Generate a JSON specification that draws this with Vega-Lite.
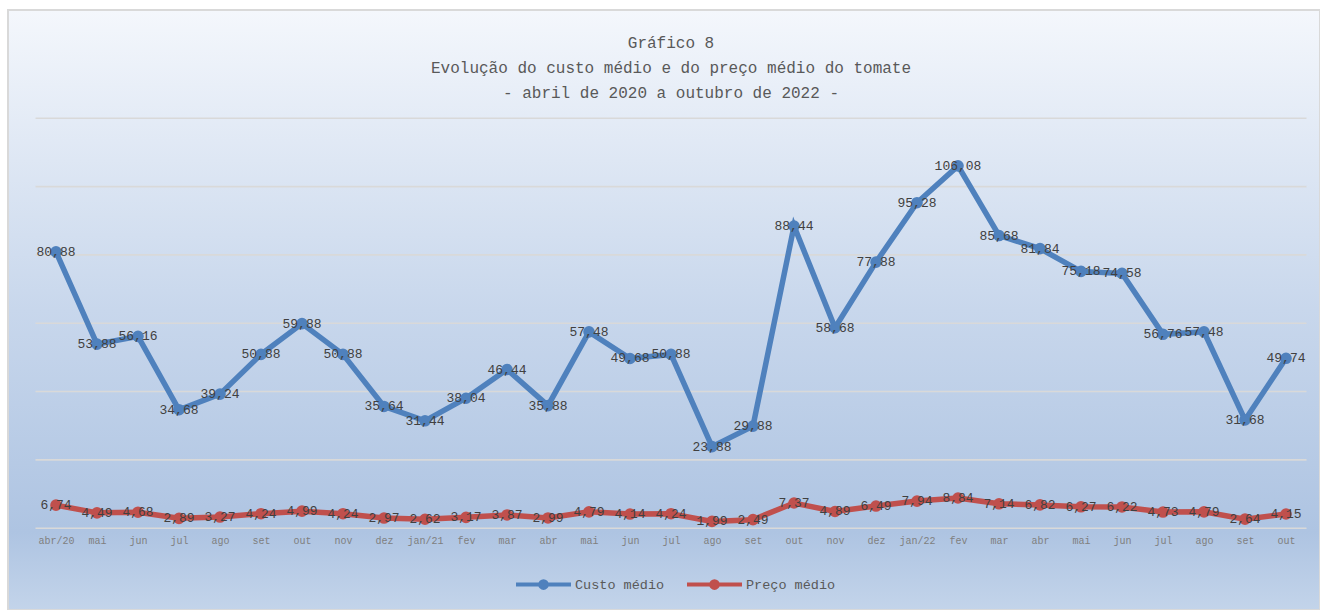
{
  "$schema": "https://vega.github.io/schema/vega-lite/v6.json",
  "width": 1312,
  "height": 600,
  "padding": {"left": 8, "top": 10, "right": 0, "bottom": 0},
  "autosize": {"type": "none"},
  "background": "white",
  "config": {
    "locale": {"number": {"decimal": ",", "thousands": ".", "grouping": [3], "currency": ["R$", ""]}},
    "font": "Liberation Mono",
    "view": {
      "fill": {"gradient": "linear", "x1": 0, "y1": 0, "x2": 0, "y2": 1,
        "stops": [
          {"offset": 0, "color": "#f4f7fc"},
          {"offset": 0.5, "color": "#c8d7ec"},
          {"offset": 0.87, "color": "#aec4e2"},
          {"offset": 1, "color": "#c3d4ea"}
        ]},
      "stroke": "#d9d9d9",
      "strokeWidth": 2
    }
  },
  "title": {
    "text": ["Gráfico 8", "Evolução do custo médio e do preço médio do tomate", "- abril de 2020 a outubro de 2022 -"],
    "font": "Liberation Mono",
    "fontSize": 16,
    "fontWeight": "normal",
    "color": "#595959",
    "lineHeight": 25,
    "anchor": "middle",
    "dx": 7,
    "dy": 95
  },
  "datasets": {
    "grade": [{"v": 0}, {"v": 20}, {"v": 40}, {"v": 60}, {"v": 80}, {"v": 100}, {"v": 120}],
    "tomate": [
      {"i": 0, "mes": "abr/20", "Custo médio": 80.88, "Preço médio": 6.74},
      {"i": 1, "mes": "mai", "Custo médio": 53.88, "Preço médio": 4.49},
      {"i": 2, "mes": "jun", "Custo médio": 56.16, "Preço médio": 4.68},
      {"i": 3, "mes": "jul", "Custo médio": 34.68, "Preço médio": 2.89},
      {"i": 4, "mes": "ago", "Custo médio": 39.24, "Preço médio": 3.27},
      {"i": 5, "mes": "set", "Custo médio": 50.88, "Preço médio": 4.24},
      {"i": 6, "mes": "out", "Custo médio": 59.88, "Preço médio": 4.99},
      {"i": 7, "mes": "nov", "Custo médio": 50.88, "Preço médio": 4.24},
      {"i": 8, "mes": "dez", "Custo médio": 35.64, "Preço médio": 2.97},
      {"i": 9, "mes": "jan/21", "Custo médio": 31.44, "Preço médio": 2.62},
      {"i": 10, "mes": "fev", "Custo médio": 38.04, "Preço médio": 3.17},
      {"i": 11, "mes": "mar", "Custo médio": 46.44, "Preço médio": 3.87},
      {"i": 12, "mes": "abr", "Custo médio": 35.88, "Preço médio": 2.99},
      {"i": 13, "mes": "mai", "Custo médio": 57.48, "Preço médio": 4.79},
      {"i": 14, "mes": "jun", "Custo médio": 49.68, "Preço médio": 4.14},
      {"i": 15, "mes": "jul", "Custo médio": 50.88, "Preço médio": 4.24},
      {"i": 16, "mes": "ago", "Custo médio": 23.88, "Preço médio": 1.99},
      {"i": 17, "mes": "set", "Custo médio": 29.88, "Preço médio": 2.49},
      {"i": 18, "mes": "out", "Custo médio": 88.44, "Preço médio": 7.37},
      {"i": 19, "mes": "nov", "Custo médio": 58.68, "Preço médio": 4.89},
      {"i": 20, "mes": "dez", "Custo médio": 77.88, "Preço médio": 6.49},
      {"i": 21, "mes": "jan/22", "Custo médio": 95.28, "Preço médio": 7.94},
      {"i": 22, "mes": "fev", "Custo médio": 106.08, "Preço médio": 8.84},
      {"i": 23, "mes": "mar", "Custo médio": 85.68, "Preço médio": 7.14},
      {"i": 24, "mes": "abr", "Custo médio": 81.84, "Preço médio": 6.82},
      {"i": 25, "mes": "mai", "Custo médio": 75.18, "Preço médio": 6.27},
      {"i": 26, "mes": "jun", "Custo médio": 74.58, "Preço médio": 6.22},
      {"i": 27, "mes": "jul", "Custo médio": 56.76, "Preço médio": 4.73},
      {"i": 28, "mes": "ago", "Custo médio": 57.48, "Preço médio": 4.79},
      {"i": 29, "mes": "set", "Custo médio": 31.68, "Preço médio": 2.64},
      {"i": 30, "mes": "out", "Custo médio": 49.74, "Preço médio": 4.15}
    ]
  },
  "layer": [
    {
      "data": {"name": "grade"},
      "mark": {"type": "rule", "color": "#d9d9d9", "strokeWidth": 1.6},
      "encoding": {
        "x": {"datum": -0.5, "type": "quantitative",
          "scale": {"domain": [-1.1707, 30.829], "nice": false, "zero": false},
          "axis": {"values": [0,1,2,3,4,5,6,7,8,9,10,11,12,13,14,15,16,17,18,19,20,21,22,23,24,25,26,27,28,29,30],
            "labelExpr": "['abr/20','mai','jun','jul','ago','set','out','nov','dez','jan/21','fev','mar','abr','mai','jun','jul','ago','set','out','nov','dez','jan/22','fev','mar','abr','mai','jun','jul','ago','set','out'][datum.value]",
            "domain": false, "ticks": false, "grid": false, "title": null, "offset": -82, "labelPadding": 7,
            "labelFontSize": 10, "labelColor": "#7f7f7f", "labelFont": "Liberation Mono", "labelFlush": false, "labelOverlap": false}},
        "x2": {"datum": 30.5},
        "y": {"field": "v", "type": "quantitative",
          "scale": {"domain": [-23.95, 151.7], "nice": false, "zero": false}, "axis": null}
      }
    },
    {
      "data": {"name": "tomate"},
      "transform": [{"fold": ["Custo médio", "Preço médio"], "as": ["serie", "valor"]}],
      "layer": [
        {
          "mark": {"type": "line", "strokeWidth": 5.5, "point": {"filled": true, "size": 135}},
          "encoding": {
            "x": {"field": "i", "type": "quantitative",
              "scale": {"domain": [-1.1707, 30.829], "nice": false, "zero": false},
              "axis": {"values": [0,1,2,3,4,5,6,7,8,9,10,11,12,13,14,15,16,17,18,19,20,21,22,23,24,25,26,27,28,29,30],
                "labelExpr": "['abr/20','mai','jun','jul','ago','set','out','nov','dez','jan/21','fev','mar','abr','mai','jun','jul','ago','set','out','nov','dez','jan/22','fev','mar','abr','mai','jun','jul','ago','set','out'][datum.value]",
                "domain": false, "ticks": false, "grid": false, "title": null, "offset": -82, "labelPadding": 7,
                "labelFontSize": 10, "labelColor": "#7f7f7f", "labelFont": "Liberation Mono", "labelFlush": false, "labelOverlap": false}},
            "y": {"field": "valor", "type": "quantitative",
              "scale": {"domain": [-23.95, 151.7], "nice": false, "zero": false}, "axis": null},
            "color": {"field": "serie", "type": "nominal",
              "scale": {"domain": ["Custo médio", "Preço médio"], "range": ["#4F81BD", "#C0504D"]},
              "legend": {
                "orient": "none", "legendX": 506, "legendY": 545, "direction": "horizontal", "title": null,
                "symbolType": "M-1,0H1M-0.12,0A0.12,0.12,0,1,1,0.12,0A0.12,0.12,0,1,1,-0.12,0Z",
                "symbolSize": 3025, "symbolStrokeWidth": 4,
                "labelFont": "Liberation Mono", "labelFontSize": 13.5, "labelColor": "#595959",
                "labelOffset": 2, "columnPadding": 14,
                "encode": {"symbols": {"update": {"fill": {"scale": "color", "field": "value"}, "stroke": {"scale": "color", "field": "value"}}}}
              }}
          }
        },
        {
          "mark": {"type": "text", "font": "Liberation Mono", "fontSize": 13, "color": "#404040", "align": "center", "baseline": "middle"},
          "encoding": {
            "x": {"field": "i", "type": "quantitative",
              "scale": {"domain": [-1.1707, 30.829], "nice": false, "zero": false},
              "axis": {"values": [0,1,2,3,4,5,6,7,8,9,10,11,12,13,14,15,16,17,18,19,20,21,22,23,24,25,26,27,28,29,30],
                "labelExpr": "['abr/20','mai','jun','jul','ago','set','out','nov','dez','jan/21','fev','mar','abr','mai','jun','jul','ago','set','out','nov','dez','jan/22','fev','mar','abr','mai','jun','jul','ago','set','out'][datum.value]",
                "domain": false, "ticks": false, "grid": false, "title": null, "offset": -82, "labelPadding": 7,
                "labelFontSize": 10, "labelColor": "#7f7f7f", "labelFont": "Liberation Mono", "labelFlush": false, "labelOverlap": false}},
            "y": {"field": "valor", "type": "quantitative",
              "scale": {"domain": [-23.95, 151.7], "nice": false, "zero": false}, "axis": null},
            "text": {"field": "valor", "type": "quantitative", "format": ".2f"}
          }
        }
      ]
    }
  ]
}
